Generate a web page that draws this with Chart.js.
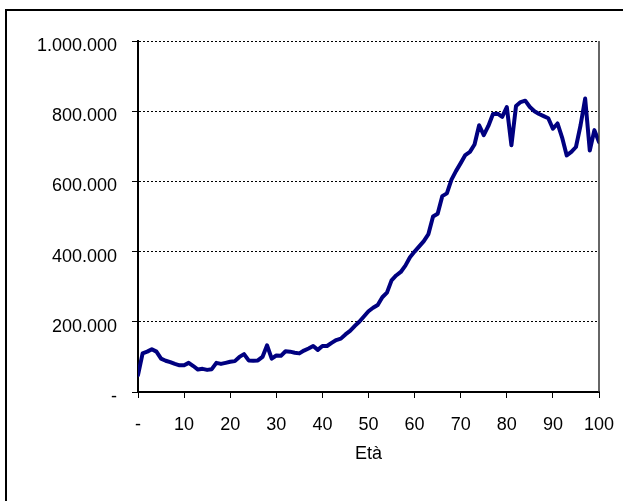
<!DOCTYPE html>
<html>
<head>
<meta charset="utf-8">
<script src="https://cdn.jsdelivr.net/npm/chart.js@4/dist/chart.umd.min.js"></script>
<style>
  html, body { margin: 0; padding: 0; background: #fff; }
  #wrap { width: 623px; height: 501px; position: relative; }
</style>
</head>
<body>
<div id="wrap"><canvas id="c" width="623" height="501"></canvas></div>
<script>
const ages = [];
for (let a = 0; a <= 100; a++) ages.push(a);

const values = [
  48000, 110000, 115000, 122000, 115000, 95000, 89000, 85000, 80000, 76000,
  76000, 83000, 74000, 64000, 66000, 63000, 65000, 83000, 80000, 83000,
  86000, 88000, 100000, 108000, 90000, 89000, 90000, 100000, 133000, 95000,
  104000, 103000, 116000, 115000, 112000, 110000, 118000, 124000, 131000, 120000,
  131000, 131000, 140000, 148000, 152000, 164000, 174000, 188000, 200000, 215000,
  230000, 240000, 248000, 270000, 283000, 318000, 332000, 342000, 360000, 384000,
  400000, 415000, 430000, 450000, 500000, 508000, 558000, 566000, 605000, 630000,
  652000, 675000, 684000, 705000, 760000, 732000, 758000, 792000, 793000, 784000,
  812000, 703000, 815000, 826000, 830000, 812000, 800000, 792000, 786000, 780000,
  750000, 765000, 725000, 674000, 684000, 698000, 760000, 836000, 688000, 746000,
  712000
];

const yTicks = [0, 200000, 400000, 600000, 800000, 1000000];
const xTicks = [0, 10, 20, 30, 40, 50, 60, 70, 80, 90, 100];
const xTitle = 'Età';

function fmt(v) {
  if (v === 0) return '-';
  return String(Math.round(v)).replace(/\B(?=(\d{3})+(?!\d))/g, '.');
}

const FONT = "'Liberation Sans', Arial, sans-serif";

const framePlugin = {
  id: 'frame',
  beforeDraw(chart) {
    const ctx = chart.ctx;
    ctx.save();
    ctx.fillStyle = '#fff';
    ctx.fillRect(0, 0, chart.width, chart.height);
    ctx.strokeStyle = '#000';
    ctx.lineWidth = 2;
    ctx.strokeRect(6, 10, 1000, 1000);
    ctx.restore();
  },
  afterDraw(chart) {
    const ctx = chart.ctx;
    const a = chart.chartArea;
    ctx.save();
    ctx.strokeStyle = '#333';
    ctx.lineWidth = 1.5;
    ctx.beginPath();
    ctx.moveTo(a.right, a.top);
    ctx.lineTo(a.right, a.bottom);
    ctx.stroke();
    ctx.restore();
  }
};

new Chart(document.getElementById('c'), {
  type: 'line',
  data: {
    datasets: [{
      data: ages.map((a, i) => ({ x: a, y: values[i] })),
      borderColor: '#000080',
      borderWidth: 4,
      pointRadius: 0,
      tension: 0,
      borderJoinStyle: 'round',
      borderCapStyle: 'round',
      fill: false
    }]
  },
  options: {
    responsive: false,
    animation: false,
    devicePixelRatio: 1,
    layout: { padding: { top: 41, right: 24, bottom: 0, left: 0 } },
    plugins: { legend: { display: false }, tooltip: { enabled: false } },
    scales: {
      x: {
        type: 'linear',
        min: 0, max: 100,
        afterBuildTicks(scale) { scale.ticks = xTicks.map(v => ({ value: v })); },
        afterFit(scale) { scale.height = 109; scale.paddingLeft = 0; scale.paddingRight = 0; },
        border: { display: true, color: '#000', width: 2 },
        grid: {
          display: true, drawOnChartArea: false, drawTicks: true,
          tickLength: 6, tickColor: '#000', tickWidth: 1
        },
        ticks: {
          color: '#000', font: { family: FONT, size: 18 }, padding: 16,
          maxRotation: 0, autoSkip: false,
          callback: v => fmt(v)
        },
        title: {
          display: true, text: xTitle, color: '#000',
          font: { family: FONT, size: 18 }, padding: { top: 0, bottom: 36 }
        }
      },
      y: {
        type: 'linear',
        min: 0, max: 1000000,
        afterBuildTicks(scale) { scale.ticks = yTicks.map(v => ({ value: v })); },
        afterFit(scale) { scale.width = 138; scale.paddingTop = 0; scale.paddingBottom = 0; },
        border: { display: true, color: '#000', width: 2, dash: [2, 2] },
        grid: {
          display: true, drawOnChartArea: true, drawTicks: true,
          tickLength: 6, tickWidth: 1, tickColor: '#000', tickBorderDash: [],
          color: ctx => (ctx.tick && ctx.tick.value === 0) ? 'rgba(0,0,0,0)' : '#000',
          lineWidth: 1
        },
        ticks: {
          color: '#000', font: { family: FONT, size: 18 }, padding: 15,
          labelOffset: 5,
          callback: v => fmt(v)
        }
      }
    }
  },
  plugins: [framePlugin]
});
</script>
</body>
</html>
